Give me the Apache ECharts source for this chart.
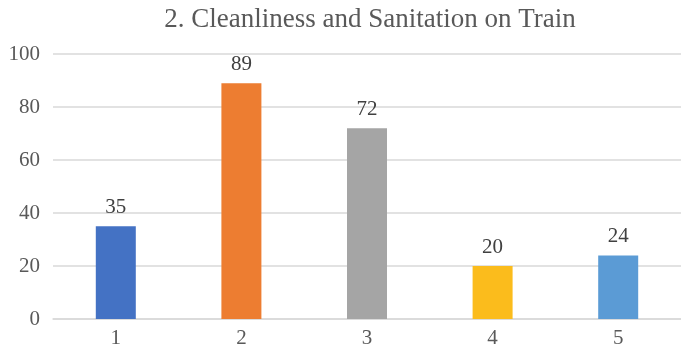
<!DOCTYPE html>
<html style="height: 100%">
<head>
<meta charset="utf-8">
<script src="https://cdn.jsdelivr.net/npm/echarts@6/dist/echarts.min.js"></script>
</head>
<body style="height: 100%; margin: 0; background: #fff">
<div id="container" style="width: 681px; height: 351px"></div>
<script type="text/javascript">
var categories = ['1', '2', '3', '4', '5'];
var values = [35, 89, 72, 20, 24];
var barColors = ['#4472C4', '#ED7D31', '#A5A5A5', '#FBBC1C', '#5B9BD5'];

var myChart = echarts.init(document.getElementById('container'));
var serif = '"Liberation Serif", "DejaVu Serif", serif';

var option = {
    animation: false,
    title: {
        text: '2. Cleanliness and Sanitation on Train',
        left: 365,
        textAlign: 'center',
        top: 1,
        textStyle: { fontFamily: serif, fontSize: 27, fontWeight: 'normal', color: '#595959' }
    },
    grid: { left: 53, top: 54, width: 636, height: 265 },
    xAxis: {
        type: 'category',
        data: categories,
        axisLine: { lineStyle: { color: '#d9d9d9', width: 1.5 } },
        axisTick: { show: false },
        axisLabel: { fontFamily: serif, fontSize: 21, color: '#595959', margin: 9 }
    },
    yAxis: {
        type: 'value',
        min: 0,
        max: 100,
        interval: 20,
        axisLine: { show: false },
        axisTick: { show: false },
        splitLine: { lineStyle: { color: '#d9d9d9', width: 1.5 } },
        axisLabel: { fontFamily: serif, fontSize: 21, color: '#595959', margin: 13 }
    },
    series: [{
        type: 'bar',
        barWidth: 40,
        data: values.map(function (v, i) {
            return { value: v, itemStyle: { color: barColors[i] } };
        }),
        label: {
            show: true,
            position: 'top',
            distance: 8,
            fontFamily: serif,
            fontSize: 21,
            color: '#404040'
        }
    }]
};

myChart.setOption(option);
</script>
</body>
</html>
